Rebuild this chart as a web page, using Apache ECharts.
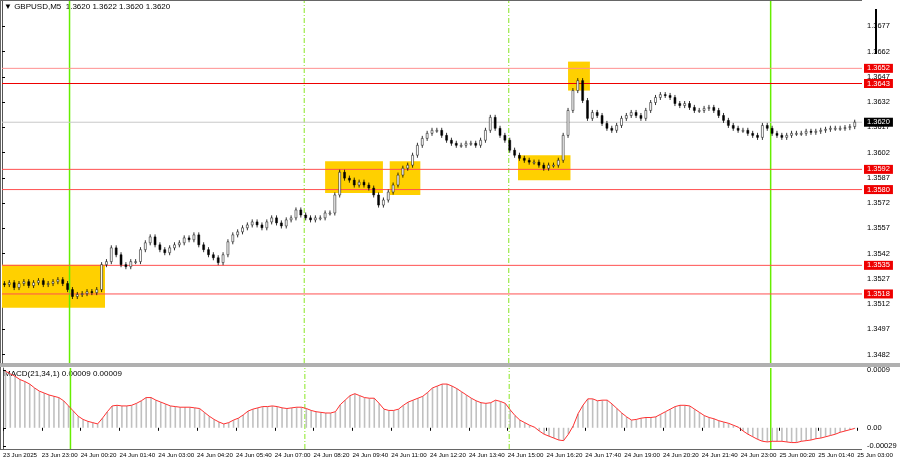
<!DOCTYPE html>
<html><head><meta charset="utf-8">
<script src="https://cdn.jsdelivr.net/npm/echarts@6/dist/echarts.min.js"></script>
<style>html,body{margin:0;padding:0;background:#fff}#c{width:900px;height:460px}</style>
</head><body><div id="c"></div>
<script>
// closes in pips (1.3xxxx -> 3xxx.x), 10-minute candles from 23 Jun 21:40
const closes = [3523.6,3524.7,3521.8,3524.2,3525.3,3523,3524.7,3525.9,3523.6,3524.2,3525.3,3526.5,3524.2,3520.6,3516.5,3517.7,3518.2,3519.4,3518.8,3520.6,
3535.4,3537.2,3545.4,3541.3,3535.4,3534.2,3537.2,3537.2,3544.3,3548.4,3551.9,3547.2,3544.3,3542.5,3545.4,3547.2,3548.4,3551.3,3550.2,3553.1,
3547.2,3544.3,3541.3,3539.5,3536.6,3541.3,3549,3553.1,3554.9,3557.3,3559,3560.8,3559,3557.3,3560.8,3563.2,3560.2,3558.4,3562,3563.2,
3567.9,3564.9,3563.2,3562,3563.2,3563.2,3566.1,3566.1,3576.8,3590.3,3586.8,3585.6,3582.7,3584.4,3582.7,3580.9,3576.8,3570.8,3573.8,3578.5,
3582.7,3588.6,3592.7,3594.5,3600.4,3606.3,3610.4,3613.4,3615.2,3615.2,3612.2,3609.3,3607.5,3606.3,3606.3,3607.5,3607.5,3606.3,3609.3,3615.2,
3622.9,3616.4,3612.2,3609.3,3603.4,3600.4,3598.6,3597.4,3596.3,3596.3,3594.5,3592.7,3594.5,3594.5,3597.4,3612.2,3627,3638.8,3644.7,3632.9,
3622.3,3625.8,3624,3619.3,3616.4,3615.2,3618.1,3622.3,3624,3625.8,3624,3622.3,3627,3631.7,3634.7,3636.4,3635.9,3634.7,3631.1,3629.9,
3631.1,3628.8,3627,3627,3628.2,3628.8,3627,3624,3621.1,3618.1,3616.4,3615.2,3615.2,3613.4,3612.2,3611,3618.1,3616.4,3613.4,3612.2,
3611,3612.2,3613.4,3613.4,3613.4,3614.6,3614,3614.6,3615.2,3615.8,3616.4,3616.4,3616.4,3616.8,3617.4,3620];
// MACD values in units of 0.0001
const macd = [8.8,8.4,8.0,7.5,7.2,6.8,6.2,5.7,5.4,5.1,4.9,4.7,4.2,3.4,2.6,1.8,1.3,1.0,0.8,0.6,
1.5,2.5,3.4,3.5,3.4,3.4,3.5,3.8,4.2,4.7,4.7,4.3,4.0,3.7,3.4,3.3,3.2,3.2,3.2,3.1,
3.0,2.4,1.8,1.3,0.9,0.6,0.8,1.2,1.5,2.0,2.6,2.9,3.1,3.3,3.3,3.4,3.3,3.1,3.0,3.1,
3.2,3.2,3.0,2.7,2.5,2.4,2.3,2.3,2.5,3.6,4.3,5.0,5.3,5.0,4.7,4.6,4.6,3.8,2.9,2.7,
2.7,2.9,3.5,4.0,4.3,4.6,4.9,5.5,6.2,6.5,6.8,6.8,6.5,6.1,5.6,5.1,4.6,4.2,3.9,3.8,
3.9,4.3,4.1,3.8,2.8,1.9,1.2,0.8,0.4,0.1,-0.5,-1.0,-1.3,-1.6,-1.9,-2.0,-1.0,0.3,2.2,3.5,
4.5,4.5,4.2,4.3,4.3,3.7,3.0,2.3,1.7,1.2,1.3,1.5,1.6,1.6,1.7,2.1,2.5,2.9,3.3,3.5,
3.5,3.4,2.9,2.4,1.9,1.6,1.4,1.1,0.9,0.7,0.4,0.1,-0.5,-1.0,-1.4,-1.8,-2.1,-2.2,-2.1,-2.1,
-2.1,-2.2,-2.3,-2.3,-2.1,-2.0,-1.9,-1.7,-1.6,-1.4,-1.2,-1.0,-0.7,-0.5,-0.3,-0.1];
const tickLabels = ["23 Jun 2025","23 Jun 23:00","24 Jun 00:20","24 Jun 01:40","24 Jun 03:00","24 Jun 04:20","24 Jun 05:40","24 Jun 07:00","24 Jun 08:20","24 Jun 09:40","24 Jun 11:00","24 Jun 12:20","24 Jun 13:40","24 Jun 15:00","24 Jun 16:20","24 Jun 17:40","24 Jun 19:00","24 Jun 20:20","24 Jun 21:40","24 Jun 23:00","25 Jun 00:20","25 Jun 01:40","25 Jun 03:00"];
const priceTicks = [1.3482,1.3497,1.3512,1.3527,1.3542,1.3557,1.3572,1.3587,1.3602,1.3617,1.3632,1.3647,1.3662,1.3677];
const levels = [1.3652,1.3643,1.3592,1.3580,1.3535,1.3518];
const levelColors = ['#ff9090','#ee0000','#ff5050','#ff5050','#ff5050','#ff5050'];
const currentPrice = 1.3620;
const macdTicks = [0.0009,0,-0.00029];
// boxes: [startCandle, endCandle, priceTop, priceBottom]
const boxes = [[0,21.2,1.35354,1.35098],[66.5,78.4,1.35968,1.35779],[79.8,86.1,1.35968,1.35768],[106.2,117,1.36004,1.35856],[116.5,121,1.3656,1.36388]];
const vlines = [[13.9,'solid'],[62.2,'dash'],[104.3,'dash'],[158.2,'solid']];

const N = closes.length + 1;
const P = p => 1 + p/1e4;
const ohlc = closes.map((c,i)=>{const o=i?closes[i-1]:c+0.5;const hi=Math.max(o,c)+1.5, lo=Math.min(o,c)-1.5;return [i+0.5,P(o),P(c),P(lo),P(hi)];});
const xTicks = tickLabels.map((_,k)=>k*8);
const font = 'Liberation Sans';
const lbl = {fontFamily:font,fontSize:8,color:'#000'};

function candleItem(params, api){
  const x=api.value(0), o=api.value(1), c=api.value(2), lo=api.value(3), hi=api.value(4);
  const pO=api.coord([x,o]), pC=api.coord([x,c]), pL=api.coord([x,lo]), pH=api.coord([x,hi]);
  const up=c>=o, top=Math.min(pO[1],pC[1]), h=Math.max(1,Math.abs(pO[1]-pC[1]));
  return {type:'group',children:[
    {type:'line',shape:{x1:pL[0],y1:pL[1],x2:pH[0],y2:pH[1]},style:{stroke:'#000',lineWidth:0.8}},
    {type:'rect',shape:{x:pO[0]-1,y:top,width:2,height:h},style:{fill:up?'#ffffff':'#000',stroke:'#000',lineWidth:0.5}}
  ]};
}
const hseries = levels.map((l,k)=>({type:'line',xAxisIndex:0,yAxisIndex:0,data:[[0,l],[N,l]],symbol:'none',z:2,silent:true,
  itemStyle:{color:levelColors[k]},lineStyle:{color:levelColors[k],width:1},
  endLabel:{show:true,formatter:l.toFixed(4),backgroundColor:'#ee0000',color:'#fff',fontFamily:font,fontSize:7.5,padding:[1,3,0,3],distance:2}}));
hseries.push({type:'line',xAxisIndex:0,yAxisIndex:0,data:[[0,currentPrice],[N,currentPrice]],symbol:'none',z:2,silent:true,
  itemStyle:{color:'#c8c8c8'},lineStyle:{color:'#c8c8c8',width:1},
  endLabel:{show:true,formatter:currentPrice.toFixed(4),backgroundColor:'#000',color:'#fff',fontFamily:font,fontSize:7.5,padding:[1,3,0,3],distance:2}});
const vseries = [];
vlines.forEach(v=>{
  [[0,1.3477,1.3692],[1,-0.00033,0.00093]].forEach(g=>{
    vseries.push({type:'line',xAxisIndex:g[0],yAxisIndex:g[0],data:[[v[0],g[1]],[v[0],g[2]]],symbol:'none',z:1,silent:true,
      lineStyle:{color:v[1]==='solid'?'#66ee00':'#88e622',width:v[1]==='solid'?1.5:1,type:v[1]==='solid'?'solid':[5,2,1,2]}});
  });
});

const chart = echarts.init(document.getElementById('c'),null,{renderer:'canvas'});
chart.setOption({
  animation:false,
  grid:[{left:2,right:38,top:1,height:362},{left:2,right:38,top:368,height:81}],
  xAxis:[
    {type:'value',gridIndex:0,min:0,max:N,show:false,splitLine:{show:false}},
    {type:'value',gridIndex:1,min:0,max:N,splitLine:{show:false},axisLine:{show:false},
      axisTick:{show:true,customValues:xTicks,length:3,lineStyle:{color:'#000'}},
      axisLabel:{...lbl,fontSize:6.2,align:'left',margin:3,showMinLabel:true,showMaxLabel:true,
        customValues:xTicks,formatter:v=>tickLabels[Math.round(v/8)]||''}}
  ],
  yAxis:[
    {type:'value',gridIndex:0,position:'right',min:1.3477,max:1.3692,splitLine:{show:false},
      axisLine:{show:true,lineStyle:{color:'#555'}},axisTick:{show:true,customValues:priceTicks,length:3,lineStyle:{color:'#000'}},
      axisLabel:{...lbl,fontSize:7.5,customValues:priceTicks,margin:5,formatter:v=>v.toFixed(4)}},
    {type:'value',gridIndex:1,position:'right',min:-0.00033,max:0.00093,splitLine:{show:false},
      axisLine:{show:true,lineStyle:{color:'#555'}},axisTick:{show:true,customValues:macdTicks,length:3,lineStyle:{color:'#000'}},
      axisLabel:{...lbl,fontSize:7.5,customValues:macdTicks,margin:5,formatter:v=>Math.abs(v)<1e-9?'0.00':(v>0?'0.0009':'-0.00029')}}
  ],
  series:[
    {type:'line',xAxisIndex:0,yAxisIndex:0,data:[],z:1,silent:true,
      markArea:{silent:true,itemStyle:{color:'#FFD000',opacity:1},data:boxes.map(b=>[{coord:[b[0],b[2]]},{coord:[b[1],b[3]]}])}},
    ...vseries,
    ...hseries,
    {type:'custom',xAxisIndex:0,yAxisIndex:0,data:ohlc,z:5,renderItem:candleItem,encode:{x:0,y:[1,2,3,4]}},
    {type:'bar',xAxisIndex:1,yAxisIndex:1,data:macd.map((v,i)=>[i+0.5,v/1e4]),barWidth:1.6,itemStyle:{color:'#c0c0c0'},z:2},
    {type:'line',xAxisIndex:1,yAxisIndex:1,data:macd.map((v,i)=>[i+0.5,v/1e4]),symbol:'none',lineStyle:{color:'#ff3030',width:1},z:3}
  ],
  graphic:[
    {type:'rect',shape:{x:0,y:0,width:862,height:1},style:{fill:'#666'}},
    {type:'rect',shape:{x:0,y:0,width:1,height:450},style:{fill:'#666'}},
    {type:'rect',shape:{x:0,y:363,width:900,height:4},style:{fill:'#b0b0b0'}},
    {type:'rect',shape:{x:0,y:449,width:862,height:1},style:{fill:'#666'}},
    {type:'rect',shape:{x:875,y:9,width:2,height:45},style:{fill:'#000'}},
    {type:'text',left:4,top:3,style:{text:'▼ GBPUSD,M5  1.3620 1.3622 1.3620 1.3620',fontFamily:font,fontSize:8,fill:'#000'}},
    {type:'text',left:4,top:370,style:{text:'MACD(21,34,1) 0.00009 0.00009',fontFamily:font,fontSize:8,fill:'#000'}}
  ]
});
</script></body></html>
